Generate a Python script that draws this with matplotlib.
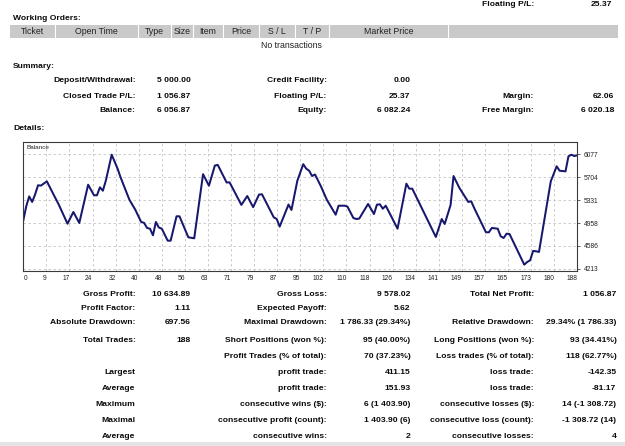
import matplotlib
matplotlib.use("Agg")
import matplotlib.pyplot as plt
from matplotlib.patches import Rectangle

# ---------------- data ----------------
trade_idx = [0, 1, 2, 3, 4, 5, 6, 8, 10, 12, 15, 17, 19, 22, 24, 25, 26, 27, 28, 30,
             32, 33, 36, 38, 40, 41, 42, 43, 44, 45, 46, 47, 48, 49, 50, 52, 53, 56, 58,
             61, 63, 65, 66, 69, 70, 74, 76, 78, 80, 81, 85, 86, 87, 90, 91, 93, 95, 96,
             97, 98, 99, 101, 103, 106, 107, 109, 110, 112, 113, 114, 117, 119, 120, 121,
             122, 123, 127, 130, 131, 132, 140, 142, 143, 145, 146, 148, 151, 152, 153,
             157, 158, 159, 161, 162, 163, 164, 165, 170, 171, 172, 173, 174, 175, 179,
             181, 182, 184, 185, 186, 187, 188]
balance = [5000, 5229, 5390, 5300, 5420, 5570, 5565, 5634, 5445, 5260, 4947, 5137, 4959,
           5579, 5408, 5408, 5537, 5482, 5644, 6066, 5839, 5700, 5336, 5174, 4975, 4960,
           4878, 4866, 4759, 4975, 4885, 4866, 4769, 4672, 4672, 5067, 5067, 4727, 4710,
           5750, 5563, 5890, 5900, 5615, 5618, 5252, 5396, 5215, 5420, 5424, 5050, 5023,
           4900, 5258, 5170, 5645, 5912, 5840, 5806, 5720, 5745, 5553, 5336, 5093, 5239,
           5239, 5225, 5040, 5023, 5030, 5267, 5104, 5255, 5262, 5190, 5239, 4866, 5596,
           5515, 5515, 4732, 5023, 4942, 5250, 5720, 5526, 5300, 5310, 5202, 4808, 4808,
           4878, 4866, 4743, 4715, 4785, 4780, 4283, 4326, 4354, 4505, 4500, 4489, 5634,
           5878, 5806, 5796, 6040, 6066, 6044, 6057]

y_ticks = [4213, 4586, 4958, 5331, 5704, 6077]
x_tick_labels = ["0", "9", "17", "24", "32", "40", "48", "56", "63", "71", "79", "87", "95",
                 "102", "110", "118", "126", "134", "141", "149", "157", "165", "173", "180", "188"]
n_trades = 188

order_columns = ["Ticket", "Open Time", "Type", "Size", "Item", "Price", "S / L", "T / P",
                 "Market Price", ""]

summary_rows = [
    ["Deposit/Withdrawal:", "5 000.00", "Credit Facility:", "0.00", "", ""],
    ["Closed Trade P/L:", "1 056.87", "Floating P/L:", "25.37", "Margin:", "62.06"],
    ["Balance:", "6 056.87", "Equity:", "6 082.24", "Free Margin:", "6 020.18"],
]

detail_rows = [
    ["Gross Profit:", "10 634.89", "Gross Loss:", "9 578.02", "Total Net Profit:", "1 056.87"],
    ["Profit Factor:", "1.11", "Expected Payoff:", "5.62", "", ""],
    ["Absolute Drawdown:", "697.56", "Maximal Drawdown:", "1 786.33 (29.34%)",
     "Relative Drawdown:", "29.34% (1 786.33)"],
    ["Total Trades:", "188", "Short Positions (won %):", "95 (40.00%)",
     "Long Positions (won %):", "93 (34.41%)"],
    ["", "", "Profit Trades (% of total):", "70 (37.23%)",
     "Loss trades (% of total):", "118 (62.77%)"],
    ["Largest", "", "profit trade:", "411.15", "loss trade:", "-142.35"],
    ["Average", "", "profit trade:", "151.93", "loss trade:", "-81.17"],
    ["Maximum", "", "consecutive wins ($):", "6 (1 403.90)",
     "consecutive losses ($):", "14 (-1 308.72)"],
    ["Maximal", "", "consecutive profit (count):", "1 403.90 (6)",
     "consecutive loss (count):", "-1 308.72 (14)"],
    ["Average", "", "consecutive wins:", "2", "consecutive losses:", "4"],
]

# ---------------- layout ----------------
W, H = 625, 446
fig = plt.figure(figsize=(W / 100, H / 100), dpi=100)
fig.patch.set_facecolor("white")
FONT = ["Liberation Sans", "DejaVu Sans"]


def px(x, y):
    return x / W, 1 - y / H


def T(x, y, s, ha="left", size=6.1, bold=False, color="#0a0a0a"):
    fx, fy = px(x, y)
    fig.text(fx, fy, s, ha=ha, va="center", fontsize=size,
             fontweight="bold" if bold else "normal", color=color, family=FONT)


def band(x0, y0, x1, y1, color):
    fx, fy = px(x0, y1)
    fig.patches.append(Rectangle((fx, fy), (x1 - x0) / W, (y1 - y0) / H,
                                 transform=fig.transFigure, facecolor=color,
                                 edgecolor="none", zorder=0))


# top remnant row
T(534, 4, "Floating P/L:", "right", bold=True)
T(612, 4, "25.37", "right", bold=True)

# Working orders
T(13, 18, "Working Orders:", bold=True)
band(10, 24.5, 617.5, 37.5, "#c9c9c9")
seps = [10, 55, 137.5, 171.3, 193.2, 223, 259, 294.8, 328.7, 448.2, 617.5]
for s in seps[1:-1]:
    fx0, fy0 = px(s, 24.5)
    fx1, fy1 = px(s, 37.5)
    fig.add_artist(plt.Line2D([fx0, fx1], [fy0, fy1], color="white", lw=0.8,
                              transform=fig.transFigure))
for i, name in enumerate(order_columns):
    if name:
        T((seps[i] + seps[i + 1]) / 2, 31, name, "center", size=6.3, color="#222222")
T(291, 46, "No transactions", "center", size=6.3, color="#222222")

# Summary
T(13, 67, "Summary:", bold=True)
col_x = [135.5, 190.5, 326.7, 410.4, 534, 614]
for r, yy in zip(summary_rows, [80, 96, 111]):
    for c, s in enumerate(r):
        if s:
            T(col_x[c], yy, s, "right", bold=True)

T(13, 129, "Details:", bold=True)

# Details stats
det_y = [294, 308.5, 322.5, 341, 357, 373, 388.5, 404, 420, 436]
det_x = [135.5, 190.5, 326.7, 410.4, 534, 616.4]
for r, yy in zip(detail_rows, det_y):
    for c, s in enumerate(r):
        if s:
            T(det_x[c], yy, s, "right", bold=True)

band(0, 441.5, 625, 446, "#e4e4e4")

# ---------------- chart ----------------
ax_l, ax_r, ax_t, ax_b = 23.3, 577.3, 142, 271
ax = fig.add_axes([ax_l / W, 1 - ax_b / H, (ax_r - ax_l) / W, (ax_b - ax_t) / H])
ax.plot(trade_idx, balance, color="#17176e", lw=1.45, solid_joinstyle="round")
ax.set_xlim(0, n_trades)
ax.set_ylim(4180, 6272)

grid_pos = [k * n_trades / 24 for k in range(25)]
ax.set_xticks(grid_pos)
ax.set_xticklabels(x_tick_labels)
for i, lab in enumerate(ax.get_xticklabels()):
    lab.set_ha("left" if i == 0 else "right")
    lab.set_family(FONT)
ax.set_yticks(y_ticks)
ax.set_yticklabels([str(v) for v in y_ticks])
ax.yaxis.tick_right()
ax.tick_params(axis="x", length=0, pad=3, labelsize=4.8, labelcolor="#222222")
ax.tick_params(axis="y", length=2.5, width=0.6, pad=2, labelsize=4.8,
               labelcolor="#222222", color="#444444")
for lab in ax.get_yticklabels():
    lab.set_family(FONT)
ax.grid(True, color="#c4c4c4", lw=0.6, ls=(0, (3, 3)))
for sp in ax.spines.values():
    sp.set_color("#3a3a3a")
    sp.set_linewidth(0.8)
ax.text(0.005, 0.955, "Balance", transform=ax.transAxes, fontsize=4.6,
        color="#222222", ha="left", va="center", family=FONT)

fig.savefig("out.png", dpi=100)
